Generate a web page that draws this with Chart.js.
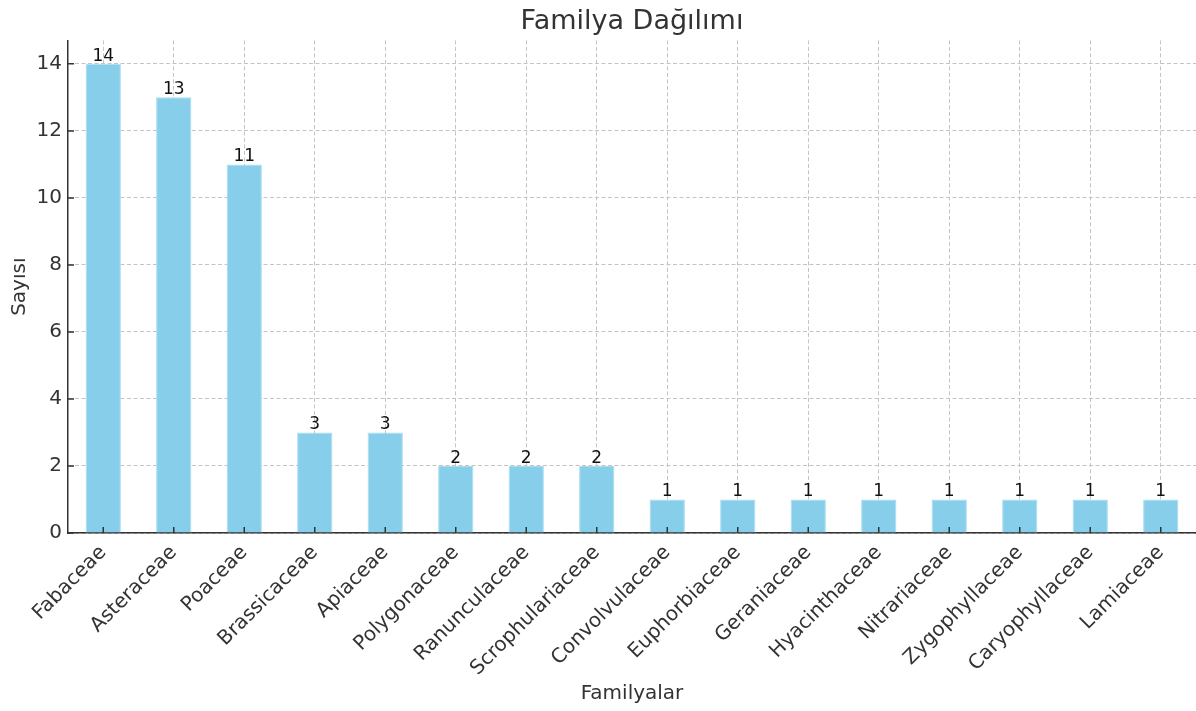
<!DOCTYPE html>
<html>
<head>
<meta charset="utf-8">
<script src="https://cdn.jsdelivr.net/npm/chart.js@4"></script>
<style>
  html, body { margin: 0; padding: 0; background: #fff; }
</style>
</head>
<body>
<canvas id="chart" width="1196" height="711"></canvas>
<script>
// Values
const familyalar = [
  "Fabaceae", "Asteraceae", "Poaceae", "Brassicaceae", "Apiaceae",
  "Polygonaceae", "Ranunculaceae", "Scrophulariaceae", "Convolvulaceae",
  "Euphorbiaceae", "Geraniaceae", "Hyacinthaceae", "Nitrariaceae",
  "Zygophyllaceae", "Caryophyllaceae", "Lamiaceae"
];
const sayilar = [14, 13, 11, 3, 3, 2, 2, 2, 1, 1, 1, 1, 1, 1, 1, 1];
const yTicks = [0, 2, 4, 6, 8, 10, 12, 14];

const FONT = "'DejaVu Sans', sans-serif";
const TEXT = "#333333";

// value labels above bars
const barLabels = {
  id: "barLabels",
  afterDatasetsDraw(chart) {
    const ctx = chart.ctx;
    const meta = chart.getDatasetMeta(0);
    ctx.save();
    ctx.font = "17px " + FONT;
    ctx.fillStyle = "#111";
    ctx.textAlign = "center";
    ctx.textBaseline = "bottom";
    meta.data.forEach((bar, i) => {
      ctx.fillText(String(sayilar[i]), bar.x, bar.y + 1);
    });
    ctx.restore();
  }
};

// tick marks pointing into the plot (matplotlib "in" direction)
const innerTicks = {
  id: "innerTicks",
  afterDraw(chart) {
    const ctx = chart.ctx;
    const xs = chart.scales.x, ys = chart.scales.y;
    const a = chart.chartArea;
    ctx.save();
    ctx.strokeStyle = TEXT;
    ctx.lineWidth = 1.5;
    ctx.beginPath();
    familyalar.forEach((_, i) => {
      const px = xs.getPixelForValue(i);
      ctx.moveTo(px, a.bottom);
      ctx.lineTo(px, a.bottom - 6);
    });
    yTicks.forEach(v => {
      const py = ys.getPixelForValue(v);
      ctx.moveTo(a.left, py);
      ctx.lineTo(a.left + 6, py);
    });
    ctx.stroke();
    ctx.restore();
  }
};

const whiteBg = {
  id: "whiteBg",
  beforeDraw(chart) {
    const ctx = chart.ctx;
    ctx.save();
    ctx.fillStyle = "#fff";
    ctx.fillRect(0, 0, chart.width, chart.height);
    ctx.restore();
  }
};

new Chart(document.getElementById("chart").getContext("2d"), {
  type: "bar",
  data: {
    labels: familyalar,
    datasets: [{
      data: sayilar,
      backgroundColor: "#87CEEB",
      borderColor: "#a8dcf0",
      borderWidth: 1,
      barPercentage: 0.5,
      categoryPercentage: 1.0
    }]
  },
  options: {
    responsive: false,
    animation: false,
    layout: { padding: 0 },
    plugins: {
      legend: { display: false },
      tooltip: { enabled: false },
      title: {
        display: true,
        text: "Familya Dağılımı",
        fullSize: false,
        color: TEXT,
        font: { family: FONT, size: 27, weight: "normal" },
        padding: { top: 6, bottom: 2 }
      }
    },
    scales: {
      x: {
        z: 1,
        offset: true,
        grid: {
          offset: false,
          color: "#c4c4c4",
          lineWidth: 1,
          drawTicks: false
        },
        border: { display: true, color: TEXT, width: 1.5, dash: [4, 2.5] },
        ticks: {
          color: TEXT,
          font: { family: FONT, size: 20 },
          minRotation: 45,
          maxRotation: 45,
          autoSkip: false,
          padding: 8
        },
        title: {
          display: true,
          text: "Familyalar",
          color: TEXT,
          font: { family: FONT, size: 20 },
          padding: { top: 0, bottom: 5 }
        },
        afterFit(scale) { scale.height = 178; }
      },
      y: {
        z: 1,
        min: 0,
        max: 14.7,
        afterBuildTicks(scale) {
          scale.ticks = yTicks.map(v => ({ value: v }));
        },
        grid: {
          color: "#c4c4c4",
          lineWidth: 1,
          drawTicks: false
        },
        border: { display: true, color: TEXT, width: 1.5, dash: [4, 2.5] },
        ticks: {
          color: TEXT,
          font: { family: FONT, size: 20 },
          padding: 6
        },
        title: {
          display: true,
          text: "Sayısı",
          color: TEXT,
          font: { family: FONT, size: 20 },
          padding: { top: 8, bottom: 2 }
        },
        afterFit(scale) { scale.width = 68; }
      }
    }
  },
  plugins: [whiteBg, barLabels, innerTicks]
});
</script>
</body>
</html>
